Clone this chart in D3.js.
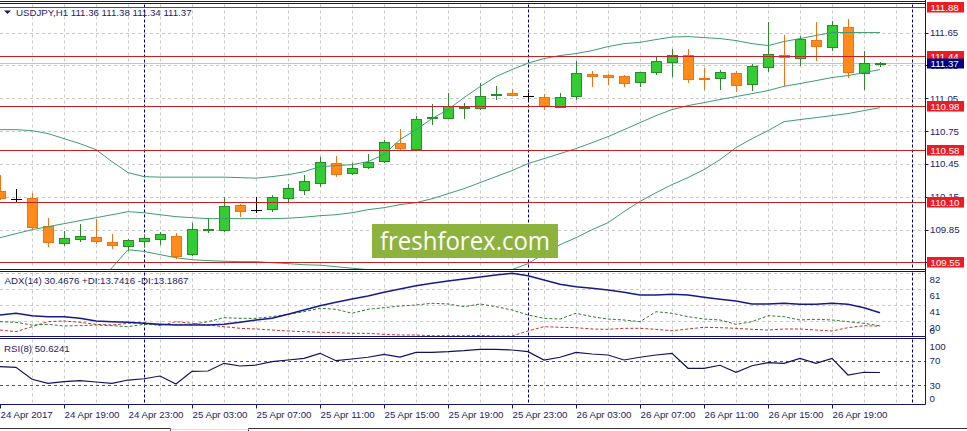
<!DOCTYPE html>
<html><head><meta charset="utf-8">
<script src="https://cdn.jsdelivr.net/npm/d3@7"></script>
<style>
html,body{margin:0;padding:0;background:#fff;overflow:hidden;}
svg{display:block;}
text{font-family:"Liberation Sans",Arial,sans-serif;}
</style></head><body>
<svg id="c" width="967" height="431"></svg>
<script>
// ---------------- DATA ----------------
const symbolTitle = "USDJPY,H1  111.36 111.38 111.34 111.37";
const adxTitle = "ADX(14) 30.4676 +DI:13.7416 -DI:13.1867";
const rsiTitle = "RSI(8) 50.6241";
const firstBar = "2017-04-24T15:00:00Z";
const barCount = 56;

const opens  = [110.199,110.13,110.139,109.886,109.727,109.764,109.783,109.737,109.70,109.742,
                109.764,109.788,109.624,109.846,109.846,110.075,110.03,110.038,110.135,110.215,
                110.28,110.459,110.367,110.42,110.474,110.642,110.587,110.87,110.87,110.962,
                110.958,111.08,111.099,111.068,111.062,110.97,111.068,111.272,111.263,111.254,
                111.196,111.29,111.382,111.443,111.239,111.232,111.284,111.177,111.337,111.443,
                111.42,111.586,111.516,111.702,111.278,111.36];
const highs  = [110.352,110.22,110.18,109.956,109.834,109.90,109.947,109.81,109.762,109.80,
                109.83,109.822,109.91,109.956,110.148,110.087,110.15,110.17,110.27,110.346,
                110.51,110.526,110.459,110.54,110.672,110.77,110.885,111.0,111.10,111.007,
                111.19,111.166,111.135,111.099,111.09,111.099,111.394,111.296,111.275,111.266,
                111.29,111.433,111.504,111.50,111.327,111.306,111.30,111.367,111.748,111.632,
                111.623,111.744,111.76,111.778,111.479,111.38];
const lows   = [110.13,110.10,109.86,109.697,109.71,109.75,109.724,109.678,109.66,109.697,
                109.72,109.59,109.614,109.825,109.84,109.97,110.01,110.02,110.10,110.175,
                110.25,110.337,110.36,110.41,110.47,110.59,110.58,110.815,110.865,110.87,
                110.953,111.047,111.077,111.028,110.955,110.97,111.04,111.16,111.18,111.16,
                111.16,111.272,111.257,111.196,111.138,111.135,111.113,111.129,111.296,111.175,
                111.357,111.403,111.488,111.245,111.138,111.34];
const closes = [110.139,110.13,109.87,109.737,109.773,109.794,109.746,109.71,109.755,109.773,
                109.81,109.612,109.856,109.852,110.066,110.023,110.03,110.148,110.23,110.297,
                110.47,110.358,110.416,110.468,110.65,110.596,110.864,110.876,110.976,110.97,
                111.068,111.086,111.077,111.068,110.976,111.062,111.282,111.251,111.24,111.19,
                111.287,111.394,111.449,111.223,111.227,111.294,111.168,111.345,111.458,111.428,
                111.592,111.528,111.723,111.287,111.373,111.37];

const bbUpper  = [110.763,110.763,110.754,110.727,110.681,110.635,110.580,110.471,110.370,110.334,
                  110.329,110.329,110.329,110.329,110.329,110.325,110.320,110.334,110.352,110.379,
                  110.425,110.434,110.443,110.471,110.535,110.672,110.763,110.864,110.946,111.056,
                  111.156,111.248,111.312,111.371,111.412,111.440,111.458,111.485,111.522,111.549,
                  111.561,111.586,111.609,111.613,111.604,111.595,111.577,111.549,111.531,111.568,
                  111.595,111.623,111.650,111.650,111.650,111.650];
const bbMiddle = [109.776,109.813,109.849,109.877,109.904,109.932,109.959,109.986,110.014,110.004,
                  109.986,109.968,109.959,109.950,109.950,109.950,109.950,109.950,109.954,109.963,
                  109.977,109.986,110.004,110.032,110.050,110.078,110.096,110.132,110.178,110.224,
                  110.279,110.334,110.389,110.453,110.498,110.544,110.590,110.644,110.699,110.763,
                  110.827,110.891,110.946,110.983,111.010,111.038,111.065,111.092,111.120,111.159,
                  111.184,111.211,111.239,111.257,111.284,111.312];
const bbLower  = [108.789,108.862,108.944,109.027,109.127,109.228,109.337,109.502,109.666,109.651,
                  109.621,109.593,109.575,109.566,109.561,109.557,109.557,109.548,109.539,109.529,
                  109.525,109.511,109.497,109.484,109.465,109.447,109.429,109.411,109.401,109.392,
                  109.401,109.429,109.484,109.539,109.630,109.712,109.776,109.849,109.913,110.014,
                  110.108,110.187,110.261,110.325,110.398,110.489,110.599,110.681,110.754,110.836,
                  110.855,110.873,110.891,110.910,110.937,110.964];

const adx     = [27.6,29.8,26.7,25.4,25.4,23.3,19.9,19.0,18.2,16.9,15.6,14.7,14.7,14.7,15.6,18.2,
                 21.2,23.3,28.5,34.0,39.5,43.9,48.1,51.9,56.7,60.9,65.1,68.2,71.2,73.7,76.3,78.9,
                 81.0,78.0,72.5,66.9,63.9,61.8,59.6,56.7,53.2,53.2,54.1,53.2,50.3,47.7,45.5,41.7,
                 41.7,42.6,41.3,41.3,42.6,41.3,36.9,30.4676];
const plusDI  = [19.0,18.2,14.7,15.6,13.5,13.9,14.7,13.9,12.6,15.6,14.7,15.6,15.6,19.0,24.1,23.3,
                 23.3,25.4,28.5,31.8,36.2,34.9,29.8,34.9,36.9,39.1,40.4,42.6,41.7,38.2,41.7,38.2,
                 34.0,27.6,23.3,22.4,29.8,25.4,22.4,21.2,19.0,31.8,29.8,25.4,22.4,21.2,15.6,19.0,
                 26.7,25.4,21.2,22.1,21.2,19.0,16.9,13.7416];
const minusDI = [8.3,6.2,12.6,19.0,19.9,18.2,15.6,14.7,16.9,17.7,13.9,19.0,16.9,14.7,12.6,10.5,
                 9.6,8.3,7.1,6.2,5.4,4.9,4.1,4.1,2.8,1.9,1.9,1.0,1.0,1.0,1.3,0.6,
                 0.6,7.1,12.6,11.8,11.3,9.6,9.2,10.5,10.5,9.2,7.4,9.6,11.8,11.3,10.5,9.2,
                 8.3,9.6,9.6,8.3,7.1,11.3,13.9,13.1867];
const rsi     = [60.0,59.0,39.7,33.2,35.8,37.4,35.3,33.2,38.5,40.6,45.0,32.1,52.6,53.1,65.5,61.1,
                 62.7,68.1,70.8,73.5,81.6,69.7,72.4,75.2,80.0,75.6,83.2,83.2,84.2,85.8,88.1,88.1,
                 86.9,84.2,70.8,75.2,83.2,80.5,78.9,70.8,75.2,78.9,81.6,57.4,57.4,62.3,51.0,61.6,
                 66.5,65.5,73.5,65.5,73.5,46.6,51.0,50.6241];

const levels     = [111.88, 111.44, 110.98, 110.58, 110.10, 109.55];
const bidPrice   = 111.37;
const priceTicks = [111.65, 111.35, 111.05, 110.75, 110.45, 110.15, 109.85, 109.55];
const adxTicks   = [82, 61, 41, 20];
const rsiTicks   = [100, 70, 30, 0];
const rsiLevels  = [70, 30];
const separators = ["2017-04-25T00:00:00Z", "2017-04-26T00:00:00Z", "2017-04-27T00:00:00Z"];
const firstLabel = "24 Apr 2017";
const logoText   = "freshforex.com";

// ---------------- LAYOUT / STYLE ----------------
const svg = d3.select("#c");
const NAVY = "#14146e", TXT = "#1c1c6c";
const axisX = 925.5;
const main = {top: 3.5, bottom: 269.5};
const padx = {top: 271.5, bottom: 336.5};
const prsi = {top: 338.5, bottom: 404.5};

const t0 = new Date(firstBar).getTime();
const times = d3.range(barCount).map(i => new Date(t0 + i * 3600e3));
const x = d3.scaleUtc().domain([times[0], times[barCount - 1]]).range([0, 880]);
const yP = d3.scaleLinear().domain([109.49, 111.92]).range([269, 3]);
const yA = d3.scaleLinear().domain([0, 84]).range([336.5, 271]);
const yR = d3.scaleLinear().domain([0, 100]).range([403.9, 341.9]);
const cr = v => Math.round(v) + 0.5;

const defs = svg.append("defs");
[["cm", main], ["ca", padx], ["cr", prsi]].forEach(([id, p]) => {
  defs.append("clipPath").attr("id", id).append("rect")
    .attr("x", 0).attr("y", p.top + 0.5).attr("width", axisX).attr("height", p.bottom - p.top - 1);
});

// grid verticals (every 2 bars)
const gridTimes = d3.range(2, barCount + 1, 2).map(i => new Date(t0 + i * 3600e3));
const gGrid = svg.append("g").attr("stroke", "#c9c9c9").attr("stroke-dasharray", "3,3").attr("stroke-width", 1);
[main, padx, prsi].forEach(p => {
  gGrid.selectAll(null).data(gridTimes).enter().append("line")
    .attr("x1", d => cr(x(d))).attr("x2", d => cr(x(d)))
    .attr("y1", p.top + 1).attr("y2", p.bottom - 1);
});
// grid horizontals
gGrid.selectAll(null).data(priceTicks).enter().append("line")
  .attr("x1", 0).attr("x2", axisX).attr("y1", d => cr(yP(d))).attr("y2", d => cr(yP(d)));
gGrid.selectAll(null).data(adxTicks).enter().append("line")
  .attr("x1", 0).attr("x2", axisX).attr("y1", d => cr(yA(d))).attr("y2", d => cr(yA(d)));

// day separators
const gSep = svg.append("g").attr("stroke", "#000080").attr("stroke-dasharray", "3,2");
[main, padx, prsi].forEach(p => {
  gSep.selectAll(null).data(separators).enter().append("line")
    .attr("x1", d => cr(x(new Date(d)))).attr("x2", d => cr(x(new Date(d))))
    .attr("y1", p.top + 1).attr("y2", p.bottom - 1);
});

// bid line
svg.append("line").attr("x1", 0).attr("x2", axisX)
  .attr("y1", cr(yP(bidPrice))).attr("y2", cr(yP(bidPrice)))
  .attr("stroke", "#c4c4c4");

// candles
const gC = svg.append("g").attr("clip-path", "url(#cm)");
times.forEach((t, i) => {
  const o = opens[i], h = highs[i], l = lows[i], c = closes[i];
  const cx = Math.round(x(t));
  let stroke, fill;
  if (c > o) { stroke = "#2b8a2b"; fill = "#33cc33"; }
  else if (c < o) { stroke = "#ea7416"; fill = "#ff8c1a"; }
  else { stroke = "#000"; fill = null; }
  gC.append("line").attr("x1", cx + 0.5).attr("x2", cx + 0.5)
    .attr("y1", Math.round(yP(h))).attr("y2", Math.round(yP(l)) + 1).attr("stroke", stroke);
  if (fill === null) {
    gC.append("line").attr("x1", cx - 5).attr("x2", cx + 6)
      .attr("y1", cr(yP(o))).attr("y2", cr(yP(o))).attr("stroke", stroke).attr("stroke-width", 1);
  } else {
    const top = Math.round(yP(Math.max(o, c))), bot = Math.round(yP(Math.min(o, c)));
    gC.append("rect").attr("x", cx - 4.5).attr("y", top + 0.5)
      .attr("width", 10).attr("height", Math.max(1, bot - top))
      .attr("fill", fill).attr("stroke", stroke);
  }
});

// bollinger bands
const lineP = d3.line().x((d, i) => x(times[i])).y(d => yP(d));
const gB = svg.append("g").attr("clip-path", "url(#cm)").attr("fill", "none")
  .attr("stroke", "#3e9d70").attr("stroke-width", 1);
[bbUpper, bbMiddle, bbLower].forEach(arr => gB.append("path").attr("d", lineP(arr)));

// support / resistance lines
svg.append("g").selectAll("line").data(levels).enter().append("line")
  .attr("x1", 0).attr("x2", axisX).attr("y1", d => cr(yP(d))).attr("y2", d => cr(yP(d)))
  .attr("stroke", "#c42026").attr("stroke-width", 1);

// ADX pane
const lineA = d3.line().x((d, i) => x(times[i])).y(d => yA(d));
const gA = svg.append("g").attr("clip-path", "url(#ca)").attr("fill", "none");
gA.append("path").attr("d", lineA(minusDI)).attr("stroke", "#c8302c").attr("stroke-dasharray", "3,2");
gA.append("path").attr("d", lineA(plusDI)).attr("stroke", "#2f7a2f").attr("stroke-dasharray", "3,2");
gA.append("path").attr("d", lineA(adx)).attr("stroke", "#151a8c").attr("stroke-width", 1.5);

// RSI pane
svg.append("g").selectAll("line").data(rsiLevels).enter().append("line")
  .attr("x1", 0).attr("x2", axisX).attr("y1", d => cr(yR(d))).attr("y2", d => cr(yR(d)))
  .attr("stroke", "#c42026").attr("stroke-dasharray", "3,3");
const lineR = d3.line().x((d, i) => x(times[i])).y(d => yR(d));
svg.append("g").attr("clip-path", "url(#cr)").append("path").attr("d", lineR(rsi))
  .attr("fill", "none").attr("stroke", "#12125e").attr("stroke-width", 1.2);

// logo
const logo = svg.append("g");
logo.append("rect").attr("x", 372).attr("y", 224).attr("width", 186).attr("height", 34).attr("fill", "#8db33e");
logo.append("text").attr("x", 380).attr("y", 250).text(logoText)
  .attr("fill", "#fff").style("font-family", "'Open Sans',sans-serif").style("font-size", "25px")
  .attr("textLength", 170).attr("lengthAdjust", "spacingAndGlyphs");

// frames
const gF = svg.append("g").attr("stroke", NAVY).attr("fill", "none");
gF.append("line").attr("x1", 0).attr("x2", axisX).attr("y1", 1.5).attr("y2", 1.5);
[main, padx, prsi].forEach(p => {
  gF.append("line").attr("x1", 0).attr("x2", axisX).attr("y1", p.top).attr("y2", p.top);
  gF.append("line").attr("x1", 0).attr("x2", axisX).attr("y1", p.bottom).attr("y2", p.bottom);
});
gF.append("line").attr("x1", axisX).attr("x2", axisX).attr("y1", 0).attr("y2", prsi.bottom);

// price axis labels
const fs = "9.7px";
const gL = svg.append("g").attr("fill", TXT).style("font-size", fs);
gL.selectAll(null).data(priceTicks).enter().append("text")
  .attr("x", 930).attr("y", d => yP(d) + 3.5).text(d => d.toFixed(2));
svg.append("g").attr("stroke", NAVY).selectAll("line").data(priceTicks).enter().append("line")
  .attr("x1", axisX).attr("x2", axisX + 3).attr("y1", d => cr(yP(d))).attr("y2", d => cr(yP(d)));

// level labels
const gLv = svg.append("g").style("font-size", fs);
levels.forEach(v => {
  const yy = Math.round(yP(v));
  gLv.append("rect").attr("x", 927).attr("y", yy - 5).attr("width", 37).attr("height", 10.5).attr("fill", "#ec1c22");
  gLv.append("text").attr("x", 930.5).attr("y", yy + 3.7).attr("fill", "#fff").text(v.toFixed(2));
});
{
  const yy = Math.round(yP(bidPrice));
  gLv.append("rect").attr("x", 927).attr("y", yy - 4.5).attr("width", 37).attr("height", 10).attr("fill", "#000080");
  gLv.append("text").attr("x", 930.5).attr("y", yy + 3.9).attr("fill", "#fff").text(bidPrice.toFixed(2));
}

// ADX labels (drawn below their level)
gL.selectAll(null).data(adxTicks).enter().append("text")
  .attr("x", 929.5).attr("y", d => yA(d) + 10.5).text(d => d);
gL.append("text").attr("x", 929.5).attr("y", padx.bottom - 3).text(0);
// RSI labels (clamped inside pane)
gL.selectAll(null).data(rsiTicks).enter().append("text")
  .attr("x", 929.5)
  .attr("y", d => Math.min(prsi.bottom - 6, Math.max(prsi.top + 8, yR(d))) + 3.5)
  .text(d => d);

// titles
svg.append("path").attr("d", "M4,10.5 L11,10.5 L7.5,14 Z").attr("fill", NAVY);
const gT = svg.append("g").attr("fill", TXT).style("font-size", fs).style("white-space", "pre");
gT.append("text").attr("x", 16).attr("y", 15.5).text(symbolTitle);
gT.append("text").attr("x", 4.5).attr("y", 284).text(adxTitle);
gT.append("text").attr("x", 4).attr("y", 351.5).text(rsiTitle);

// time axis
const labelTimes = times.filter((t, i) => i % 4 === 0);
const fmt = d3.utcFormat("%d %b %H:%M");
svg.append("g").attr("stroke", NAVY).selectAll("line").data(labelTimes).enter().append("line")
  .attr("x1", d => cr(x(d))).attr("x2", d => cr(x(d))).attr("y1", prsi.bottom).attr("y2", prsi.bottom + 4);
svg.append("g").attr("fill", TXT).style("font-size", fs).selectAll("text").data(labelTimes).enter()
  .append("text").attr("x", d => x(d) + 0.5).attr("y", 417.8)
  .text((d, i) => i === 0 ? firstLabel : fmt(d));

// bottom tab bar
const gTab = svg.append("g").attr("stroke", "#333").attr("fill", "none");
gTab.append("path").attr("d", "M0,428.5 H170.5 V431");
gTab.append("path").attr("d", "M248.5,431 V428.5 H967");
gTab.append("path").attr("d", "M170.5,429.5 H248.5").attr("stroke", "#ddd");
</script>
</body></html>
